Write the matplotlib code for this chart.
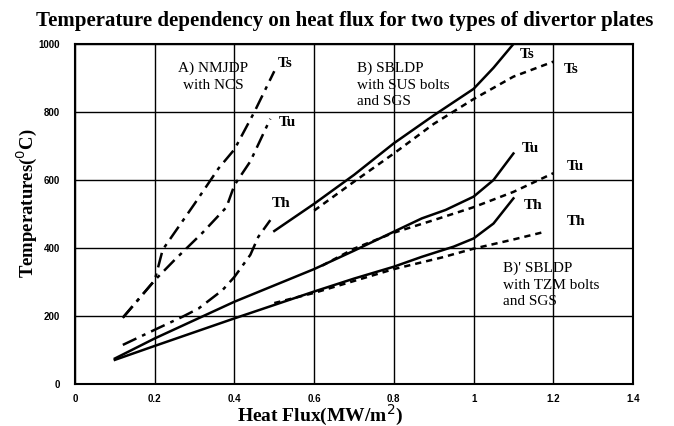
import matplotlib
matplotlib.use("Agg")
import matplotlib.pyplot as plt

# A) NMJDP with NCS  (dash-dot)
ts_a_x = [0.12, 0.2, 0.22, 0.3, 0.36, 0.4, 0.45, 0.5]
ts_a_y = [195, 305, 395, 530, 634, 690, 800, 920]
tu_a_x = [0.12, 0.2, 0.25, 0.32, 0.38, 0.4, 0.44, 0.49]
tu_a_y = [195, 305, 365, 445, 520, 585, 655, 780]
th_a_x = [0.12, 0.21, 0.27, 0.31, 0.37, 0.4, 0.44, 0.46, 0.49]
th_a_y = [115, 165, 198, 222, 276, 315, 380, 433, 482]

# B) SBLDP with SUS bolts and SGS  (solid)
ts_b_x = [0.5, 0.6, 0.7, 0.8, 0.9, 1.0, 1.05, 1.1]
ts_b_y = [450, 530, 615, 708, 790, 868, 930, 1000]
tu_b_x = [0.1, 0.2, 0.4, 0.6, 0.7, 0.8, 0.87, 0.93, 1.0, 1.05, 1.1]
tu_b_y = [75, 134, 242, 338, 392, 448, 487, 512, 551, 600, 678]
th_b_x = [0.1, 0.2, 0.4, 0.6, 0.7, 0.8, 0.87, 0.95, 1.0, 1.05, 1.1]
th_b_y = [71, 112, 193, 272, 310, 345, 374, 404, 428, 472, 546]

# B)' SBLDP with TZM bolts and SGS  (dashed)
ts_c_x = [0.6, 0.7, 0.8, 0.9, 1.0, 1.1, 1.2]
ts_c_y = [510, 595, 678, 765, 838, 904, 948]
tu_c_x = [0.62, 0.7, 0.8, 0.9, 1.0, 1.1, 1.2]
tu_c_y = [348, 398, 445, 482, 520, 565, 620]
th_c_x = [0.5, 0.6, 0.7, 0.8, 0.92, 1.0, 1.1, 1.18]
th_c_y = [238, 268, 303, 338, 372, 398, 425, 448]

x_ticks = [0, 0.2, 0.4, 0.6, 0.8, 1, 1.2, 1.4]
x_labels = ["0", "0.2", "0.4", "0.6", "0.8", "1", "1.2", "1.4"]
y_ticks = [0, 200, 400, 600, 800, 1000]

serif = "Liberation Serif"
sans = "Liberation Sans"

fig = plt.figure(figsize=(6.74, 4.26), dpi=100)
ax = fig.add_axes([75 / 674, 1 - 384 / 426, 558 / 674, 340 / 426])

dashdot = (0, (6, 2.5, 1.5, 2.5))
dashed = (0, (2.5, 2))
for x, y in [(ts_a_x, ts_a_y), (tu_a_x, tu_a_y), (th_a_x, th_a_y)]:
    ax.plot(x, y, color="black", lw=1.8, linestyle=dashdot)
for x, y in [(ts_c_x, ts_c_y), (tu_c_x, tu_c_y), (th_c_x, th_c_y)]:
    ax.plot(x, y, color="black", lw=1.8, linestyle=dashed)
for x, y in [(ts_b_x, ts_b_y), (tu_b_x, tu_b_y), (th_b_x, th_b_y)]:
    ax.plot(x, y, color="black", lw=1.8, linestyle="-")

ax.set_xlim(0, 1.4)
ax.set_ylim(0, 1000)
ax.set_xticks(x_ticks)
ax.set_xticklabels(x_labels)
ax.set_yticks(y_ticks)
ax.tick_params(axis="x", length=0, pad=7, labelsize=7)
ax.tick_params(axis="y", length=0, pad=11, labelsize=7)
for lab in ax.get_xticklabels() + ax.get_yticklabels():
    lab.set_fontfamily(sans)
    lab.set_fontweight("bold")
ax.grid(True, color="black", lw=1.0)
for sp in ax.spines.values():
    sp.set_linewidth(1.5)

# labels on the curves
lbl = dict(fontfamily=serif, fontweight="bold", fontsize=11, va="center")
ax.text(0.509, 944, "Ts", **lbl)
ax.text(0.51, 770, "Tu", **lbl)
ax.text(0.494, 532, "Th", **lbl)
ax.text(1.117, 968, "Ts", **lbl)
ax.text(1.225, 924, "Ts", **lbl)
ax.text(1.121, 693, "Tu", **lbl)
ax.text(1.235, 639, "Tu", **lbl)
ax.text(1.125, 526, "Th", **lbl)
ax.text(1.234, 477, "Th", **lbl)

txt = dict(fontfamily=serif, fontsize=11, linespacing=1.35)
ax.text(0.346, 904, "A) NMJDP\nwith NCS", ha="center", va="center", **txt)
ax.text(0.708, 880, "B) SBLDP\nwith SUS bolts\nand SGS", ha="left", va="center", **txt)
ax.text(1.074, 291, "B)' SBLDP\nwith TZM bolts\nand SGS", ha="left", va="center", **txt)

fig.text(345 / 674, 1 - 21 / 426, "Temperature dependency on heat flux for two types of divertor plates",
         ha="center", va="center", fontfamily=serif, fontweight="bold", fontsize=15)
fig.text(320 / 674, 1 - 415 / 426, "Heat Flux(MW/m$^2$)", ha="center", va="center",
         fontfamily=serif, fontweight="bold", fontsize=14)
fig.text(27 / 674, 1 - 203 / 426, "Temperatures($^0$C)", ha="center", va="center", rotation=90,
         fontfamily=serif, fontweight="bold", fontsize=13.5)

fig.savefig("out.png", dpi=100)
